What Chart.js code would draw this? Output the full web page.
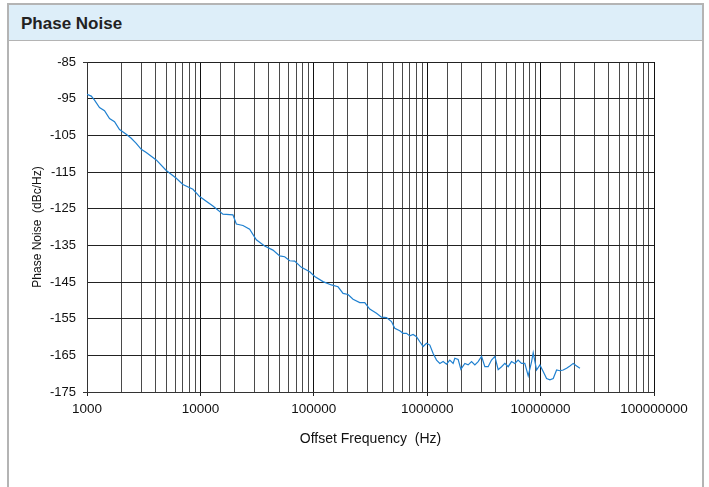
<!DOCTYPE html>
<html>
<head>
<meta charset="utf-8">
<script src="https://cdn.jsdelivr.net/npm/chart.js@4"></script>
<style>
  body { margin: 0; background: #fff; font-family: "Liberation Sans", Arial, sans-serif; }
  #card { position: absolute; left: 7px; top: 3px; width: 697px; height: 500px; border: 2px solid #b4b4b4; box-sizing: border-box; background: #fff; }
  #head { height: 35px; background: #ddeef9; border-bottom: 1px solid #b4b4b4; }
  #head span { position: absolute; left: 12px; top: 9px; font-weight: bold; font-size: 17px; color: #222; }
  #wrap { position: absolute; left: 0; top: 0; width: 709px; height: 487px; }
</style>
</head>
<body>
<div id="card"><div id="head"><span>Phase Noise</span></div></div>
<div id="wrap"><canvas id="pnChart" width="709" height="487"></canvas></div>
<script>
// offset frequency (Hz) and phase noise (dBc/Hz)
const freqs = [
  1000, 1090, 1165, 1289, 1427, 1580, 1749, 1935, 2218, 2455, 2717, 3008, 3330, 4080, 5000,
  6127, 7012, 8590, 9840, 12890, 15800, 19360, 20740, 23730, 27180, 31120, 36850, 43630,
  50000, 55350, 61270, 67820, 77780, 92040, 101900, 120600, 142900, 163600, 181100, 200500,
  221900, 254200, 281300, 311400, 357100, 395400, 437600, 484400, 517600, 573000, 612800,
  656300, 702000, 750800, 804800, 860800, 920600, 986600, 1055000, 1128000, 1209000,
  1293000, 1382000, 1480000, 1582000, 1693000, 1752000, 1874000, 1981000, 2148000,
  2297000, 2461000, 2632000, 2814000, 3015000, 3224000, 3447000, 3690000, 3951000,
  4225000, 4525000, 4839000, 5174000, 5541000, 5926000, 6337000, 6787000, 7258000,
  7776000, 8329000, 8604000, 9217000, 9856000, 10540000, 11290000, 12080000, 12920000,
  13840000, 14800000, 15830000, 16950000, 18140000, 19400000, 20780000, 22230000
];
const phaseNoise = [
  -93.8, -94.3, -95.4, -97.4, -98.3, -100.4, -101.3, -103.4, -104.7, -105.8, -107.2, -108.8, -109.7, -111.7, -114.6,
  -116.7, -118.4, -119.7, -121.7, -124.3, -126.5, -126.7, -129.2, -129.6, -130.6, -133.5, -135.2, -136.3,
  -137.9, -138.1, -139.2, -139.3, -141.0, -142.2, -143.5, -144.9, -145.8, -146.3, -148.1, -148.4,
  -149.7, -150.6, -150.6, -152.4, -153.5, -154.6, -154.7, -155.8, -157.6, -158.3, -159.0,
  -159.0, -159.7, -159.3, -159.9, -161.3, -162.6, -161.7, -162.2, -164.5, -166.3,
  -167.2, -166.7, -167.4, -166.3, -167.2, -165.8, -166.1, -168.8, -167.2,
  -167.6, -166.7, -167.6, -166.7, -165.3, -168.1, -168.1, -166.3, -165.3,
  -168.9, -168.1, -167.2, -168.1, -166.7, -167.2, -166.3, -167.2, -167.2,
  -170.6, -166.7, -164.3, -169.0, -167.6, -169.4, -171.3, -171.7, -171.3,
  -169.0, -169.2, -169.0, -168.5, -167.9, -167.2, -167.9, -168.5
];
const yMin = -175, yMax = -85, yStep = 10;
const xMin = 1000, xMax = 100000000;

const isDecade = v => Math.abs(Math.log10(v) - Math.round(Math.log10(v))) < 1e-9;
const points = freqs.map((f, i) => ({ x: f, y: phaseNoise[i] }));

new Chart(document.getElementById('pnChart'), {
  type: 'line',
  data: {
    datasets: [{
      data: points,
      borderColor: '#1f80d0',
      borderWidth: 1.2,
      pointRadius: 0,
      tension: 0,
      fill: false
    }]
  },
  options: {
    responsive: false,
    animation: false,
    layout: { padding: { left: 0, top: 62, right: 55, bottom: 0 } },
    plugins: { legend: { display: false }, tooltip: { enabled: false } },
    scales: {
      x: {
        type: 'logarithmic',
        min: xMin,
        max: xMax,
        afterFit: s => { s.height = 95; },
        grid: {
          color: c => (c.tick && isDecade(c.tick.value)) ? '#111' : '#4a4a4a',
          tickColor: c => (c.tick && isDecade(c.tick.value)) ? '#222' : 'rgba(0,0,0,0)',
          tickLength: 4,
          lineWidth: 1
        },
        border: { color: '#333' },
        ticks: {
          autoSkip: false,
          maxRotation: 0,
          padding: 5,
          color: '#111',
          font: { family: '"Liberation Sans", Arial', size: 13.5 },
          callback: v => isDecade(v) ? String(Math.round(v)) : ''
        },
        title: {
          display: true,
          text: 'Offset Frequency  (Hz)',
          color: '#111',
          font: { family: '"Liberation Sans", Arial', size: 14 },
          padding: { top: 0, bottom: 39 }
        }
      },
      y: {
        min: yMin,
        max: yMax,
        afterFit: s => { s.width = 87; },
        grid: {
          color: '#222',
          tickColor: c => (c.index === 0 || c.tick.value === yMax) ? '#333' : 'rgba(0,0,0,0)',
          tickLength: 4,
          lineWidth: 1
        },
        border: { color: '#333' },
        ticks: {
          stepSize: yStep,
          padding: 7,
          color: '#111',
          font: { family: '"Liberation Sans", Arial', size: 13 }
        },
        title: {
          display: true,
          text: 'Phase Noise  (dBc/Hz)',
          color: '#111',
          font: { family: '"Liberation Sans", Arial', size: 12 },
          padding: { top: 30, bottom: 0 }
        }
      }
    }
  }
});
</script>
</body>
</html>
